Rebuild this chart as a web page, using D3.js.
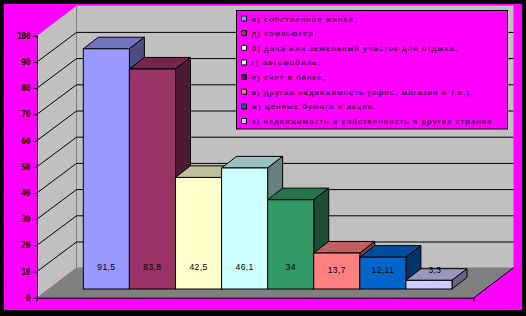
<!DOCTYPE html>
<html><head><meta charset="utf-8">
<script src="https://cdn.jsdelivr.net/npm/d3@7"></script>
<style>
html,body{margin:0;padding:0;background:#000;}
svg{display:block;}
text{font-family:"Liberation Sans",Arial,sans-serif;}
</style></head>
<body>
<script>
const categories = ["а","д","б","г","е","в","ж","з"];
const values = [91.5, 83.8, 42.5, 46.1, 34, 13.7, 12.11, 3.3];
const valueLabels = ["91,5","83,8","42,5","46,1","34","13,7","12,11","3,3"];
const barColors = ["#9999FF","#993366","#FFFFCC","#CCFFFF","#339966","#FF8080","#0066CC","#CCCCFF"];
const legendLabels = [
  "а) собственное жильё,",
  "д) компьютер,",
  "б) дача или земельный участок для отдыха,",
  "г) автомобиль,",
  "е) счет в банке,",
  "в) другая  недвижимость (офис, магазин и т.п.),",
  "ж) ценные бумаги и акции,",
  "з) недвижимость и собственность в других странах."
];
const legendColors = ["#9999FF","#993366","#FFFFCC","#CCFFFF","#660066","#FF8080","#0066CC","#CCCCFF"];
const yTicks = [0,10,20,30,40,50,60,70,80,90,100];

const W = 526, H = 316;
const svg = d3.select("body").append("svg").attr("width", W).attr("height", H);

svg.append("rect").attr("x",0).attr("y",0).attr("width",W).attr("height",H).attr("fill","#000");
svg.append("rect").attr("x",4).attr("y",4).attr("width",518).attr("height",306).attr("fill","#FF00FF");

// geometry
const frontX0 = 37, frontX1 = 474;
const dX = 39.5, dY = -30;
const y = d3.scaleLinear().domain([0,100]).range([297.7, 35.7]);
const yBack = v => y(v) + dY;

// left wall
svg.append("path")
  .attr("d", `M${frontX0},${y(0)} L${frontX0},${y(100)} L${frontX0+dX},${yBack(100)} L${frontX0+dX},${yBack(0)} Z`)
  .attr("fill","#C0C0C0");
// back wall
svg.append("rect").attr("x",frontX0+dX).attr("y",yBack(100))
  .attr("width",(frontX1+dX)-(frontX0+dX)).attr("height",yBack(0)-yBack(100))
  .attr("fill","#C0C0C0");
svg.append("line").attr("x1",frontX0+dX).attr("x2",frontX0+dX)
  .attr("y1",yBack(100)).attr("y2",yBack(0)).attr("stroke","#808080");
// floor
svg.append("path")
  .attr("d", `M${frontX0},${y(0)} L${frontX1},${y(0)} L${frontX1+dX},${yBack(0)} L${frontX0+dX},${yBack(0)} Z`)
  .attr("fill","#808080");
svg.append("line").attr("x1",frontX1).attr("y1",y(0)).attr("x2",frontX1+dX).attr("y2",yBack(0))
  .attr("stroke","#000");

// gridlines
const gridVals = yTicks.filter(v => v > 0 && v < 100);
svg.append("g").selectAll("line.bg").data(gridVals).join("line")
  .attr("x1",frontX0+dX).attr("x2",frontX1+dX)
  .attr("y1",v=>yBack(v)+0.5).attr("y2",v=>yBack(v)+0.5)
  .attr("stroke","#000");
svg.append("g").selectAll("line.lg").data(gridVals).join("line")
  .attr("x1",frontX0).attr("x2",frontX0+dX)
  .attr("y1",v=>y(v)).attr("y2",v=>yBack(v)+0.5)
  .attr("stroke","#000");

// y axis
const axisG = svg.append("g").attr("transform",`translate(${frontX0},0)`)
  .call(d3.axisLeft(y).tickValues(yTicks).tickSize(4).tickPadding(3).tickFormat(d3.format("d")));
axisG.select(".domain").attr("stroke","#000");
axisG.selectAll(".tick line").attr("stroke","#000");
axisG.selectAll("text").attr("font-size","8px").attr("fill","#000").attr("font-weight","bold")
  .style("font-family","'DejaVu Sans Mono', monospace").attr("letter-spacing","-0.5px");

// floor front edge + ticks
svg.append("line").attr("x1",frontX0).attr("x2",frontX1).attr("y1",y(0)+0.5).attr("y2",y(0)+0.5).attr("stroke","#000");
svg.append("g").selectAll("line").data([frontX0, frontX1]).join("line")
  .attr("x1",d=>d).attr("x2",d=>d).attr("y1",y(0)).attr("y2",y(0)+4).attr("stroke","#000");

// bars
const x = d3.scaleBand().domain(categories).range([83.3, 452]).padding(0);
const yBar = d3.scaleLinear().domain([0,100]).range([289, 289-262.5]);
const bdx = 15, bdy = -11.6;
const shade = (c,k) => { const r = d3.rgb(c); return d3.rgb(r.r*k, r.g*k, r.b*k).formatHex(); };
const data = categories.map((c,i)=>({c, v:values[i], col:barColors[i], lab:valueLabels[i]}));
const bars = svg.append("g");
// left to right: each bar's front covers the previous bar's side face
data.forEach(d => {
  const x0 = x(d.c), x1 = x0 + x.bandwidth();
  const yt = yBar(d.v), yb = yBar(0);
  const g = bars.append("g");
  g.append("path")
    .attr("d",`M${x0},${yt} L${x0+bdx},${yt+bdy} L${x1+bdx},${yt+bdy} L${x1},${yt} Z`)
    .attr("fill",shade(d.col,0.75)).attr("stroke","#000").attr("stroke-width",1);
  g.append("path")
    .attr("d",`M${x1},${yt} L${x1+bdx},${yt+bdy} L${x1+bdx},${yb+bdy} L${x1},${yb} Z`)
    .attr("fill",shade(d.col,0.5)).attr("stroke","#000").attr("stroke-width",1);
  g.append("rect").attr("x",x0).attr("y",yt).attr("width",x1-x0).attr("height",yb-yt)
    .attr("fill",d.col).attr("stroke","#000").attr("stroke-width",1);
});

// data labels
svg.append("g").selectAll("text").data(data).join("text")
  .attr("x",d=>x(d.c)+x.bandwidth()/2 + (d.v < 8 ? 6 : 0))
  .attr("y",(d,i)=> i>=5 ? 273 : 270)
  .attr("text-anchor","middle").attr("font-size","8.5px").attr("fill","#000")
  .attr("letter-spacing","0.4px")
  .text(d=>d.lab);

// legend
const lg = svg.append("g");
lg.append("rect").attr("x",236.5).attr("y",10.5).attr("width",271).attr("height",118.5)
  .attr("fill","#FF00FF").attr("stroke","#000").attr("stroke-width",1);
const rowY = d3.scalePoint().domain(d3.range(legendLabels.length)).range([18.5, 121]);
const items = lg.selectAll("g.item").data(legendLabels).join("g")
  .attr("transform",(d,i)=>`translate(0,${rowY(i)})`);
items.append("rect").attr("x",241.5).attr("y",-2.5).attr("width",5).attr("height",5)
  .attr("fill",(d,i)=>legendColors[i]).attr("stroke","#000");
items.append("text").attr("x",251.5).attr("y",3).attr("font-size","8px")
  .attr("letter-spacing","1.05px").attr("fill","#000").text(d=>d);
</script>
</body></html>
